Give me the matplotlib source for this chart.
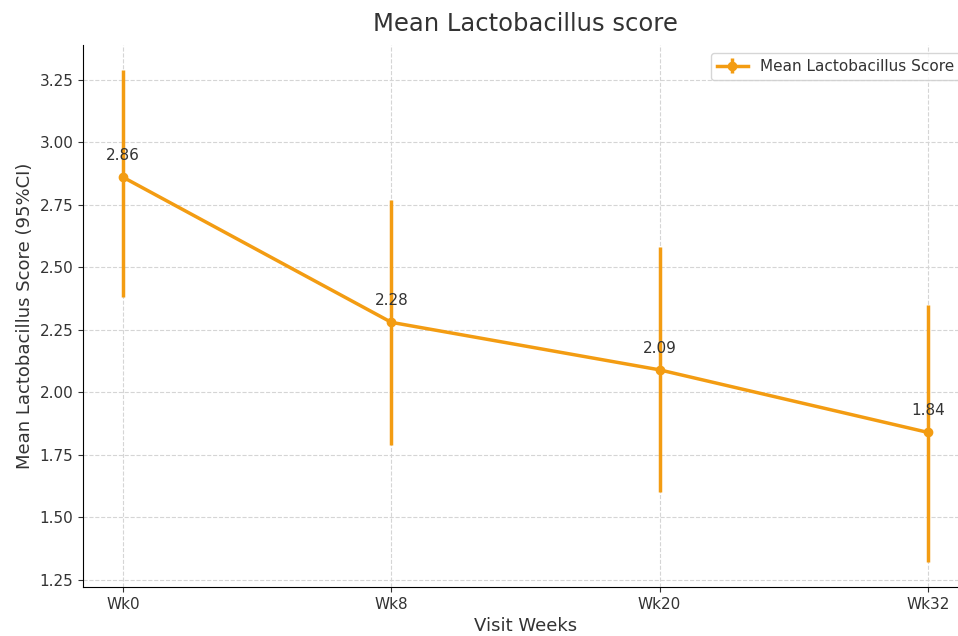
import matplotlib
matplotlib.use("Agg")
import matplotlib.pyplot as plt
import numpy as np

weeks = ["Wk0", "Wk8", "Wk20", "Wk32"]
means = [2.86, 2.28, 2.09, 1.84]
ci_low = [2.38, 1.79, 1.60, 1.32]
ci_high = [3.29, 2.77, 2.58, 2.35]

color = "#f39c12"
txt = "#333333"

fig = plt.figure(figsize=(9.58, 6.36), dpi=100)
ax = fig.add_axes([0.0866, 0.077, 0.9238, 0.852])

x = np.arange(len(weeks))
m = np.array(means)
yerr = np.array([m - np.array(ci_low), np.array(ci_high) - m])
ax.errorbar(x, m, yerr=yerr, fmt='-o', color=color, ecolor=color,
            elinewidth=2.5, linewidth=2.5, markersize=6, capsize=0,
            label="Mean Lactobacillus Score")

for xi, v in zip(x, means):
    ax.annotate(f"{v:.2f}", (xi, v), xytext=(0, 10), textcoords="offset points",
                ha="center", va="bottom", fontsize=11, color=txt)

ax.set_xticks(x)
ax.set_xticklabels(weeks)
ax.set_yticks([1.25, 1.5, 1.75, 2.0, 2.25, 2.5, 2.75, 3.0, 3.25])
ax.tick_params(labelsize=11, colors=txt)
ax.grid(True, linestyle='--', color='#d5d5d5', linewidth=0.8)
ax.set_axisbelow(True)
for s in ["top", "right"]:
    ax.spines[s].set_visible(False)

ax.set_title("Mean Lactobacillus score", fontsize=17.5, color=txt, pad=10)
ax.set_xlabel("Visit Weeks", fontsize=13, color=txt)
ax.set_ylabel("Mean Lactobacillus Score (95%CI)", fontsize=13, color=txt)
leg = ax.legend(loc="upper right", fontsize=11)
for t in leg.get_texts():
    t.set_color(txt)

fig.savefig("out.png", dpi=100)
